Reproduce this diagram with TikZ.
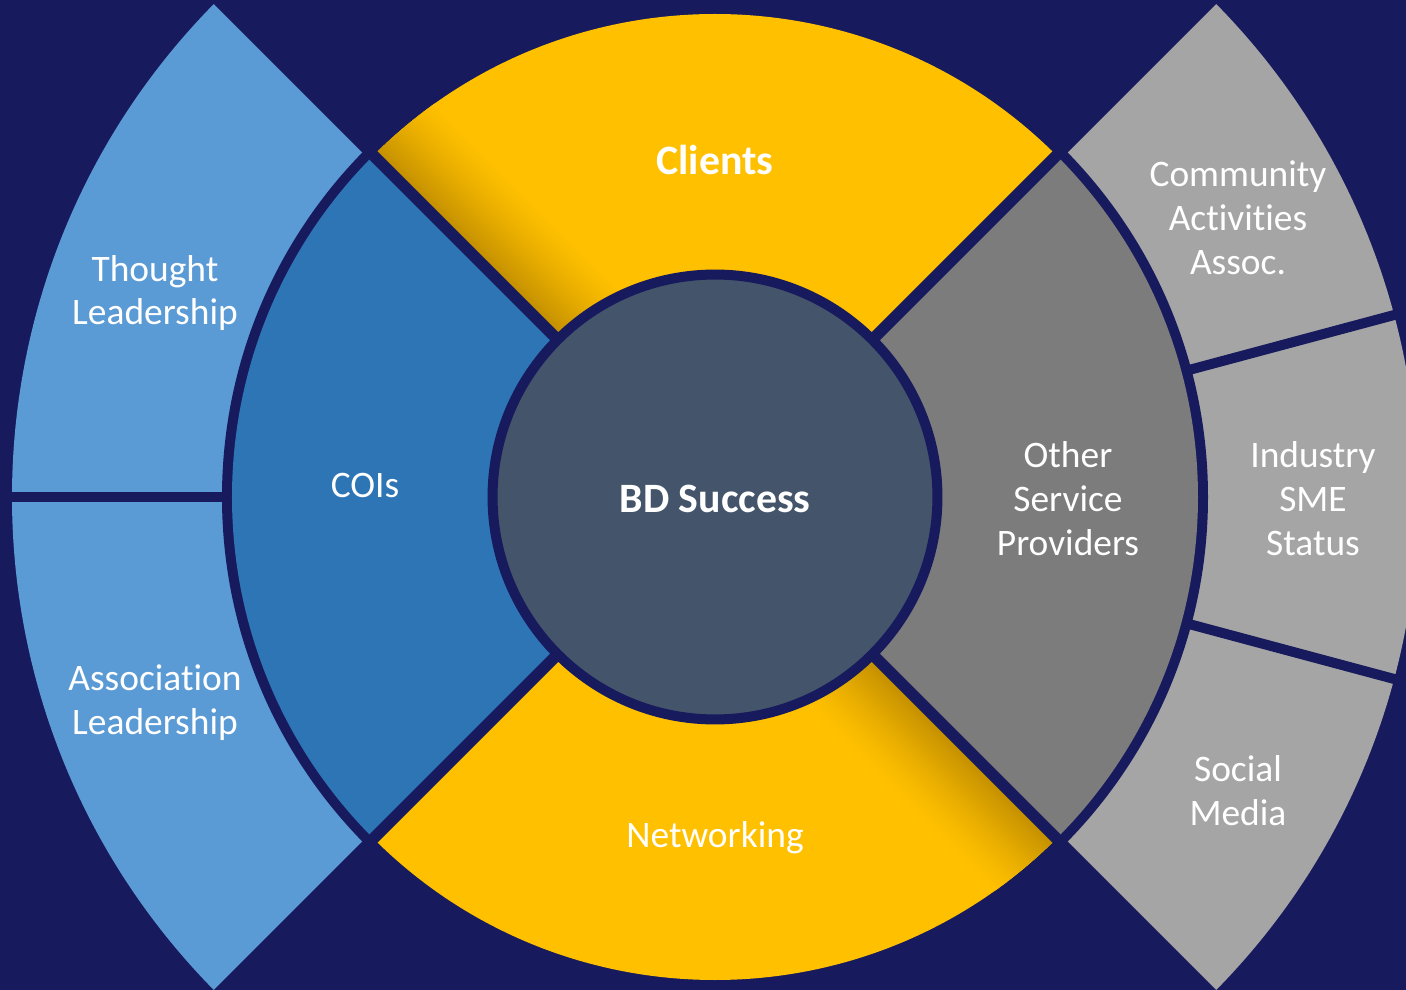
\documentclass[tikz,border=0pt]{standalone}
\usepackage{fontspec}
\setmainfont{Carlito}[Ligatures=NoCommon]
\definecolor{navy}{RGB}{23,26,92}
\definecolor{gold}{RGB}{255,192,0}
\definecolor{golddark}{RGB}{192,141,0}
\definecolor{coiblue}{RGB}{46,117,182}
\definecolor{skyblue}{RGB}{91,155,213}
\definecolor{midgray}{RGB}{124,124,124}
\definecolor{lightgray}{RGB}{165,165,165}
\definecolor{slate}{RGB}{68,84,106}

\begin{document}
\begin{tikzpicture}[x=0.02cm,
            y=0.02cm,
            gap/.style={draw=navy, line width=0.2cm},
            lbl/.style={text=white, align=center,
                        font=\fontsize{21.3}{25}\selectfont},
            hdr/.style={lbl, font=\fontsize{23.8}{28}\selectfont\bfseries}]

        % background and page size
        \fill[navy] (-715,-493) rectangle (691,497);
        \useasboundingbox (-715,-493) rectangle (691,497);

        % outer ring
        \fill[skyblue] (0,0) -- (135:703) arc[start angle=135, end angle=225, radius=703] -- cycle;
        \fill[lightgray] (0,0) -- (-45:703) arc[start angle=-45, end angle=45, radius=703] -- cycle;
        \fill[navy] (0,0) circle[radius=493];

        % middle ring
        \fill[gold]    (0,0) -- (45:483)  arc[start angle=45,  end angle=135, radius=483] -- cycle;
        \fill[coiblue] (0,0) -- (135:483) arc[start angle=135, end angle=225, radius=483] -- cycle;
        \fill[gold]    (0,0) -- (225:483) arc[start angle=225, end angle=315, radius=483] -- cycle;
        \fill[midgray] (0,0) -- (-45:483) arc[start angle=-45, end angle=45,  radius=483] -- cycle;

        % shadow along one edge of each yellow segment
        \foreach \rot in {135,315} {
            \begin{scope}[rotate=\rot]
                \clip (0,0) -- (0:483) arc[start angle=0, end angle=-90, radius=483] -- cycle;
                \foreach \k [evaluate=\k as \pct using {100*(1-\k/40)^1.3}] in {0,...,39}
                    \fill[golddark!\pct!gold] (0,-2*\k) rectangle (490,-2*\k-2.4);
            \end{scope}
        }

        % dividers
        \foreach \a in {45,135,225,315}
            \draw[gap, line width=0.23cm] (0,0) -- (\a:710);
        \foreach \a in {180,15,-15}
            \draw[gap] (\a:486) -- (\a:710);

        % hub
        \node[circle, fill=slate, draw=navy, line width=0.2cm,
              minimum size=8.9cm, inner sep=0pt] (hub) at (0,0) {};

        % labels
        \node[hdr] (success)   at (0,-2)      {BD Success};
        \node[hdr] (clients)   at (0,337)     {Clients};
        \node[lbl] (network)   at (0,-341)    {Networking};
        \node[lbl] (cois)      at (-350,12)   {COIs};
        \node[lbl] (providers) at (353,-2)    {Other\\Service\\Providers};
        \node[lbl] (thought)   at (-560,204)  {Thought\\Leadership};
        \node[lbl] (assoc)     at (-560,-206) {Association\\Leadership};
        \node[lbl] (community) at (523,279)   {Community\\Activities\\Assoc.};
        \node[lbl] (industry)  at (598,-2)    {Industry\\SME\\Status};
        \node[lbl] (social)    at (523,-294)  {Social\\Media};

    \end{tikzpicture}
\end{document}
